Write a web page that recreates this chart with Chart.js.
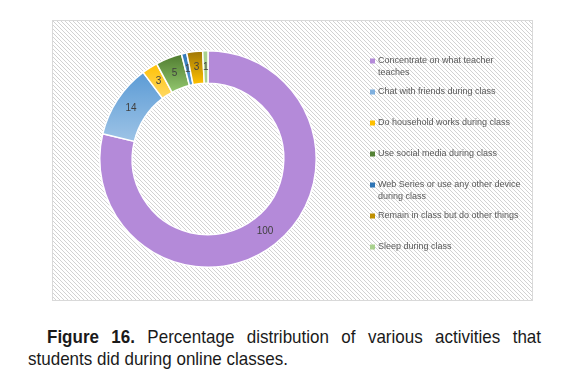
<!DOCTYPE html>
<html><head><meta charset="utf-8">
<script src="https://cdn.jsdelivr.net/npm/chart.js@4"></script>
<style>
html,body{margin:0;padding:0;background:#fff;width:567px;height:376px;overflow:hidden}
#wrap{position:absolute;left:52px;top:20px;width:481px;height:281px}
.cap{position:absolute;font-family:'Liberation Sans',Arial,sans-serif;font-size:19px;line-height:22px;color:#1a1a1a;white-space:nowrap;transform:scaleX(0.895);transform-origin:0 50%}
#cap1{left:47px;top:326px;width:552px;text-align:justify;text-align-last:justify;white-space:normal}
#cap2{left:28px;top:348px}
.cap b{font-weight:bold}
</style></head><body>
<div id="wrap"><canvas id="c" width="481" height="281"></canvas></div>
<div id="cap1" class="cap"><b>Figure 16.</b> Percentage distribution of various activities that</div>
<div id="cap2" class="cap">students did during online classes.</div>
<script>
const categories = [
  "Concentrate on what teacher teaches",
  "Chat with friends during class",
  "Do household works during class",
  "Use social media during class",
  "Web Series or use any other device during class",
  "Remain in class but do other things",
  "Sleep during class"
];
const values = [100, 14, 3, 5, 1, 3, 1];
const topColors = ["#b48ad9", "#5b9bd5", "#ffc000", "#4e7a2e", "#2e75b6", "#9c7406", "#a9d18e"];
const bottomColors = ["#b48ad9", "#9dc3e6", "#ffd966", "#92c66e", "#5b9bd5", "#ffc000", "#a9d18e"];
const legendSwatch = ["#b48ad9", "#7fb0df", "#ffc000", "#548235", "#2e75b6", "#bf8f00", "#a9d18e"];

function sliceGradient(ctx) {
  const chart = ctx.chart, area = chart.chartArea;
  const i = ctx.dataIndex;
  if (!area || i === undefined) return topColors[i || 0];
  const total = values.reduce((a, b) => a + b, 0);
  let before = 0;
  for (let k = 0; k < i; k++) before += values[k];
  const a0 = -Math.PI / 2 + 2 * Math.PI * before / total;
  const a1 = a0 + 2 * Math.PI * values[i] / total;
  const cx = (area.left + area.right) / 2, cy = (area.top + area.bottom) / 2;
  const R = Math.min(area.width, area.height) / 2, r = R * 0.7;
  let minY = Infinity, maxY = -Infinity;
  for (let s = 0; s <= 40; s++) {
    const a = a0 + (a1 - a0) * s / 40;
    for (const rr of [r, R]) {
      const y = cy + rr * Math.sin(a);
      minY = Math.min(minY, y); maxY = Math.max(maxY, y);
    }
  }
  if (maxY - minY < 1) maxY = minY + 1;
  const g = chart.ctx.createLinearGradient(0, minY, 0, maxY);
  g.addColorStop(0, topColors[i]);
  g.addColorStop(1, bottomColors[i]);
  return g;
}

function makeHatch() {
  const p = document.createElement('canvas');
  p.width = 4; p.height = 4;
  const c = p.getContext('2d');
  c.fillStyle = '#ffffff'; c.fillRect(0, 0, 4, 4);
  c.fillStyle = '#d2d2d2';
  for (let k = 0; k < 4; k++) c.fillRect(k, k, 1, 1);
  return p;
}

const bgPlugin = {
  id: 'bg',
  beforeDraw(chart) {
    const c = chart.ctx;
    c.save();
    c.fillStyle = c.createPattern(makeHatch(), 'repeat');
    c.fillRect(0, 0, chart.width, chart.height);
    c.strokeStyle = '#d9d9d9'; c.lineWidth = 1;
    c.strokeRect(0.5, 0.5, chart.width - 1, chart.height - 1);
    c.restore();
  }
};

const labelPlugin = {
  id: 'vals',
  afterDatasetsDraw(chart) {
    const c = chart.ctx;
    const meta = chart.getDatasetMeta(0);
    c.save();
    c.font = '10px "Liberation Sans", Arial, sans-serif';
    c.fillStyle = '#404040';
    c.textAlign = 'center'; c.textBaseline = 'middle';
    meta.data.forEach((el, i) => {
      const p = el.tooltipPosition();
      c.fillText(String(values[i]), p.x, p.y);
    });
    c.restore();
  }
};

const legendPlugin = {
  id: 'leg',
  afterDraw(chart) {
    const c = chart.ctx;
    c.save();
    c.font = '9px "Liberation Sans", Arial, sans-serif';
    c.textBaseline = 'middle';
    const x0 = 318, tx = 326, maxW = 148;
    categories.forEach((lab, i) => {
      const y = 41 + 31 * i;
      c.fillStyle = legendSwatch[i];
      c.fillRect(x0, y - 2.5, 5, 5);
      const words = lab.split(' ');
      const lines = []; let cur = '';
      words.forEach(w => {
        const t = cur ? cur + ' ' + w : w;
        if (c.measureText(t).width > maxW && cur) { lines.push(cur); cur = w; } else cur = t;
      });
      lines.push(cur);
      c.fillStyle = '#595959';
      lines.forEach((ln, j) => c.fillText(ln, tx, y + 12 * j));
    });
    c.restore();
  }
};

new Chart(document.getElementById('c'), {
  type: 'doughnut',
  data: {
    labels: categories,
    datasets: [{
      data: values,
      backgroundColor: sliceGradient,
      borderColor: '#ffffff',
      borderWidth: 1.5,
      hoverOffset: 0
    }]
  },
  options: {
    responsive: false,
    animation: false,
    cutout: '70%',
    layout: { padding: { left: 47, right: 216, top: 30, bottom: 33 } },
    plugins: { legend: { display: false }, tooltip: { enabled: false } }
  },
  plugins: [bgPlugin, labelPlugin, legendPlugin]
});
</script>
</body></html>
